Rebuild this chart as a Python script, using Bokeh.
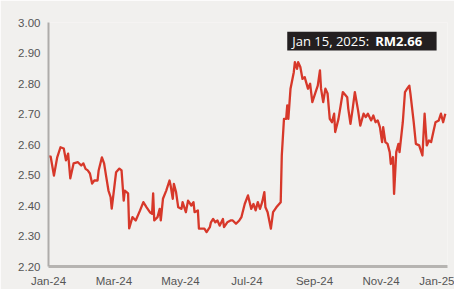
import pandas as pd
from bokeh.plotting import figure
from bokeh.models import (FixedTicker, DatetimeTickFormatter, NumeralTickFormatter,
                          Range1d, Label, BoxAnnotation, ColumnDataSource)
from bokeh.embed import file_html
from bokeh.resources import INLINE

dates = [
    "2024-01-01", "2024-01-03", "2024-01-06", "2024-01-09", "2024-01-12", "2024-01-15",
    "2024-01-17", "2024-01-19", "2024-01-21", "2024-01-24", "2024-01-28", "2024-01-31",
    "2024-02-02", "2024-02-04", "2024-02-06", "2024-02-08", "2024-02-10", "2024-02-12",
    "2024-02-15", "2024-02-16", "2024-02-19", "2024-02-21", "2024-02-23", "2024-02-25",
    "2024-02-27", "2024-02-28", "2024-03-03", "2024-03-06", "2024-03-08", "2024-03-10",
    "2024-03-11", "2024-03-14", "2024-03-15", "2024-03-18", "2024-03-21", "2024-03-25",
    "2024-03-28", "2024-03-31", "2024-04-03", "2024-04-05", "2024-04-06", "2024-04-07",
    "2024-04-10", "2024-04-12", "2024-04-13", "2024-04-15", "2024-04-18", "2024-04-21",
    "2024-04-22", "2024-04-24", "2024-04-25", "2024-04-27", "2024-04-29", "2024-05-02",
    "2024-05-03", "2024-05-06", "2024-05-08", "2024-05-11", "2024-05-13", "2024-05-14",
    "2024-05-17", "2024-05-18", "2024-05-23", "2024-05-25", "2024-05-28", "2024-05-29",
    "2024-05-31", "2024-06-02", "2024-06-04", "2024-06-06", "2024-06-09", "2024-06-10",
    "2024-06-13", "2024-06-16", "2024-06-18", "2024-06-21", "2024-06-24", "2024-06-26",
    "2024-06-29", "2024-07-02", "2024-07-05", "2024-07-07", "2024-07-09", "2024-07-11",
    "2024-07-13", "2024-07-15", "2024-07-17", "2024-07-18", "2024-07-20", "2024-07-23",
    "2024-07-25", "2024-07-28", "2024-08-01", "2024-08-02", "2024-08-04", "2024-08-06",
    "2024-08-07", "2024-08-08", "2024-08-09", "2024-08-10", "2024-08-13", "2024-08-14",
    "2024-08-16", "2024-08-17", "2024-08-19", "2024-08-21", "2024-08-23", "2024-08-26",
    "2024-08-28", "2024-08-30", "2024-09-02", "2024-09-04", "2024-09-06", "2024-09-07",
    "2024-09-09", "2024-09-11", "2024-09-13", "2024-09-15", "2024-09-17", "2024-09-19",
    "2024-09-20", "2024-09-23", "2024-09-25", "2024-09-27", "2024-10-01", "2024-10-02",
    "2024-10-04", "2024-10-06", "2024-10-08", "2024-10-11", "2024-10-13", "2024-10-16",
    "2024-10-18", "2024-10-20", "2024-10-23", "2024-10-25", "2024-10-27", "2024-10-29",
    "2024-10-31", "2024-11-02", "2024-11-03", "2024-11-05", "2024-11-07", "2024-11-09",
    "2024-11-10", "2024-11-12", "2024-11-13", "2024-11-15", "2024-11-17", "2024-11-18",
    "2024-11-21", "2024-11-23", "2024-11-25", "2024-11-27", "2024-11-28", "2024-12-01",
    "2024-12-03", "2024-12-06", "2024-12-09", "2024-12-11", "2024-12-13", "2024-12-15",
    "2024-12-17", "2024-12-19", "2024-12-21", "2024-12-24", "2024-12-26", "2024-12-28",
    "2024-12-30",
]
prices = [
    2.561, 2.560, 2.498, 2.558, 2.591, 2.587,
    2.548, 2.570, 2.489, 2.538, 2.542, 2.531,
    2.538, 2.520, 2.515, 2.505, 2.472, 2.482,
    2.482, 2.515, 2.558, 2.538, 2.493, 2.449,
    2.427, 2.390, 2.509, 2.521, 2.515, 2.416,
    2.449, 2.440, 2.325, 2.362, 2.351, 2.384,
    2.411, 2.394, 2.378, 2.373, 2.440, 2.351,
    2.362, 2.389, 2.351, 2.422, 2.449, 2.482,
    2.466, 2.422, 2.471, 2.444, 2.394, 2.389,
    2.411, 2.378, 2.416, 2.400, 2.411, 2.378,
    2.384, 2.324, 2.324, 2.313, 2.329, 2.345,
    2.356, 2.345, 2.351, 2.334, 2.356, 2.329,
    2.345, 2.351, 2.351, 2.340, 2.351, 2.362,
    2.405, 2.433, 2.389, 2.405, 2.384, 2.411,
    2.389, 2.411, 2.444, 2.394, 2.378, 2.324,
    2.378, 2.394, 2.411, 2.564, 2.684, 2.684,
    2.728, 2.684, 2.733, 2.783, 2.837, 2.870,
    2.848, 2.870, 2.854, 2.815, 2.821, 2.783,
    2.799, 2.739, 2.772, 2.793, 2.843, 2.783,
    2.739, 2.783, 2.767, 2.684, 2.673, 2.701,
    2.641, 2.684, 2.728, 2.772, 2.755, 2.717,
    2.668, 2.717, 2.772, 2.711, 2.662, 2.701,
    2.690, 2.701, 2.679, 2.695, 2.673, 2.679,
    2.657, 2.608, 2.657, 2.608, 2.602, 2.575,
    2.536, 2.559, 2.438, 2.575, 2.602, 2.575,
    2.673, 2.772, 2.783, 2.793, 2.767, 2.673,
    2.602, 2.597, 2.564, 2.701, 2.597, 2.613,
    2.608, 2.641, 2.673, 2.679, 2.701, 2.673,
    2.701,
]
x_tick_dates = ["2024-01-01", "2024-03-01", "2024-05-01", "2024-07-01",
                "2024-09-01", "2024-11-01", "2025-01-01"]
y_ticks = [2.20, 2.30, 2.40, 2.50, 2.60, 2.70, 2.80, 2.90, 3.00]
callout_date = "Jan 15, 2025: "
callout_price = "RM2.66"

BG = "#f1f0ee"


def ms(d):
    return pd.Timestamp(d).value / 1e6


src = ColumnDataSource(dict(x=pd.to_datetime(dates), y=prices))

p = figure(x_axis_type="datetime", output_backend="svg", toolbar_location=None,
           frame_width=399, frame_height=244,
           min_border_left=48, min_border_top=22, min_border_right=7, min_border_bottom=22,
           x_range=Range1d(ms("2024-01-01"), ms("2025-01-01")),
           y_range=Range1d(y_ticks[0], y_ticks[-1]))
p.background_fill_color = BG
p.border_fill_color = BG
p.outline_line_color = None
p.grid.visible = False

p.line("x", "y", source=src, line_color="#d7382a", line_width=2.3, line_join="round")

xa = p.xaxis[0]
xa.ticker = FixedTicker(ticks=[ms(d) for d in x_tick_dates])
xa.formatter = DatetimeTickFormatter(months="%b-%y", days="%b-%y", years="%b-%y")
xa.axis_line_color = "#b6b4b1"
xa.axis_line_width = 3
xa.major_tick_line_color = None
xa.minor_tick_line_color = None
xa.major_tick_out = 0
xa.major_tick_in = 0
xa.major_label_standoff = 8

ya = p.yaxis[0]
ya.ticker = FixedTicker(ticks=y_ticks)
ya.formatter = NumeralTickFormatter(format="0.00")
ya.axis_line_color = "#aeacaa"
ya.axis_line_width = 2
ya.major_tick_line_color = None
ya.minor_tick_line_color = None
ya.major_tick_out = 0
ya.major_tick_in = 0
ya.major_label_standoff = 8

for ax in (xa, ya):
    ax.major_label_text_font = "Liberation Sans"
    ax.major_label_text_font_size = "11.5px"
    ax.major_label_text_color = "#555555"

box = BoxAnnotation(left=ms("2024-08-07"), right=ms("2024-12-22"), top=2.970, bottom=2.908,
                    fill_color="#231f20", fill_alpha=1.0, line_color=None)
p.add_layout(box)
p.add_layout(Label(x=ms("2024-08-07"), y=2.939, x_offset=5, text=callout_date,
                   text_baseline="middle", text_color="white",
                   text_font="Open Sans", text_font_size="13px"))
p.add_layout(Label(x=ms("2024-08-07"), y=2.939, x_offset=88, text=callout_price,
                   text_baseline="middle", text_color="white", text_font_style="bold",
                   text_font="Open Sans", text_font_size="13px"))

open("out.html", "w").write(file_html(p, INLINE))
